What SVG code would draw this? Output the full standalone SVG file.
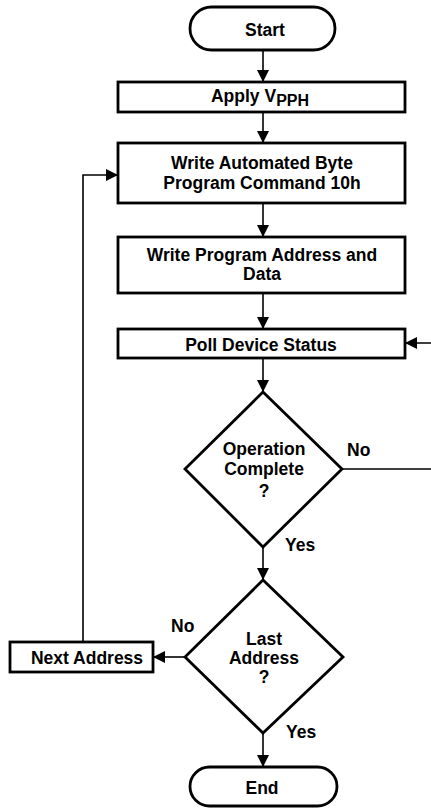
<svg xmlns="http://www.w3.org/2000/svg" width="431" height="810" viewBox="0 0 431 810">
<defs>
<marker id="ah" markerUnits="userSpaceOnUse" markerWidth="12" markerHeight="12" viewBox="0 0 12 12" refX="12" refY="6" orient="auto">
<path d="M0,0 L12,6 L0,12 z" fill="#000"/>
</marker>
<style>
.shape{fill:#fff;stroke:#000;stroke-width:2.8}
.conn{fill:none;stroke:#000;stroke-width:1.6;marker-end:url(#ah)}
text{font-family:"Liberation Sans",Arial,sans-serif;font-weight:bold;font-size:17.5px;fill:#000;text-anchor:middle}
.lbl{text-anchor:start}
</style>
</defs>
<rect width="431" height="810" fill="#fff"/>
<g id="connectors">
<path class="conn" d="M263,50 V82"/>
<path class="conn" d="M263,112 V143"/>
<path class="conn" d="M263,203 V237"/>
<path class="conn" d="M263,293 V329"/>
<path class="conn" d="M263,358 V392"/>
<path class="conn" d="M263,547 V580"/>
<path class="conn" d="M343,469 H434 V343 H405"/>
<path class="conn" d="M185,657 H153"/>
<path class="conn" d="M83,642 V175 H118"/>
<path class="conn" d="M263,733 V767"/>
</g>
<g id="start">
<rect class="shape" x="190" y="7" width="145" height="43" rx="21.5"/>
<text x="265" y="36">Start</text>
</g>
<g id="apply">
<rect class="shape" x="118" y="82" width="287" height="30"/>
<text x="260" y="102">Apply V<tspan font-size="16" dy="4">PPH</tspan></text>
</g>
<g id="write-cmd">
<rect class="shape" x="118" y="143" width="287" height="60"/>
<text x="262" y="169">Write Automated Byte</text>
<text x="262" y="189">Program Command 10h</text>
</g>
<g id="write-addr">
<rect class="shape" x="118" y="237" width="287" height="56"/>
<text x="262" y="261">Write Program Address and</text>
<text x="262" y="280">Data</text>
</g>
<g id="poll">
<rect class="shape" x="118" y="329" width="287" height="29"/>
<text x="261" y="351">Poll Device Status</text>
</g>
<g id="op-complete">
<polygon class="shape" points="263,392 342,469 263,547 185,469"/>
<text x="264" y="455">Operation</text>
<text x="264" y="475">Complete</text>
<text x="264" y="497">?</text>
</g>
<g id="last-address">
<polygon class="shape" points="263,580 343,657 263,733 185,657"/>
<text x="264" y="645">Last</text>
<text x="264" y="664">Address</text>
<text x="264" y="683">?</text>
</g>
<g id="next-address">
<rect class="shape" x="10" y="642" width="143" height="30"/>
<text x="87" y="664">Next Address</text>
</g>
<g id="end">
<rect class="shape" x="190" y="767" width="147" height="39" rx="19.5"/>
<text x="262" y="794">End</text>
</g>
<g id="labels">
<text class="lbl" x="347" y="456">No</text>
<text class="lbl" x="285" y="551">Yes</text>
<text class="lbl" x="171" y="632">No</text>
<text class="lbl" x="286" y="738">Yes</text>
</g>
</svg>
